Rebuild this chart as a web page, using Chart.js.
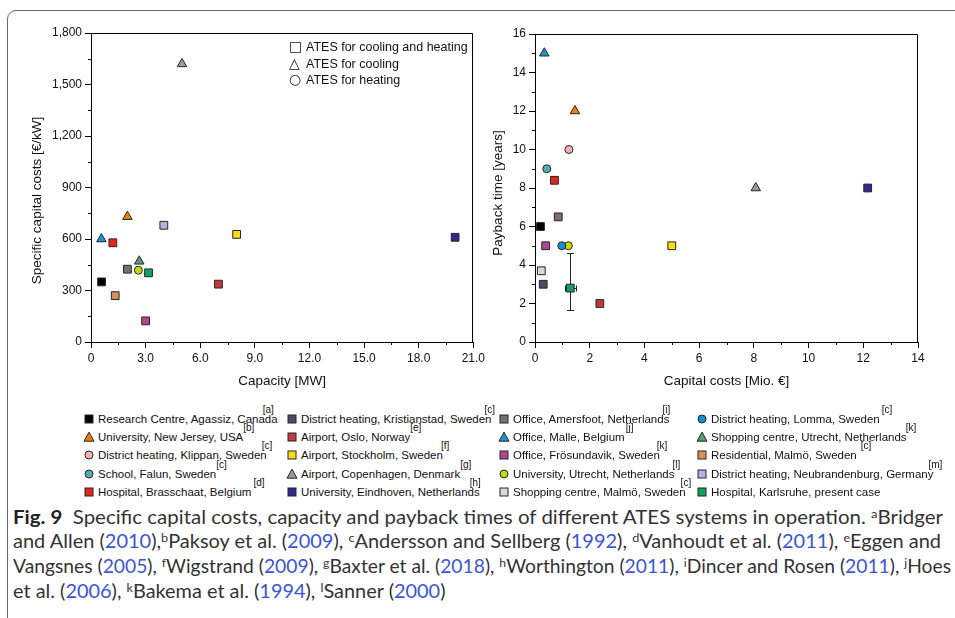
<!DOCTYPE html>
<html>
<head>
<meta charset="utf-8">
<script src="https://cdn.jsdelivr.net/npm/chart.js@4.4.1/dist/chart.umd.min.js"></script>
<style>
  body { margin: 0; width: 955px; height: 618px; overflow: hidden; position: relative; background: #fff;
         font-family: 'Liberation Sans', Arial, sans-serif; color: #111; }
  .frame { position: absolute; left: 7px; top: 10px; width: 980px; height: 640px; border: 1px solid #666;
           border-radius: 9px; box-sizing: border-box; }
  #wrapA { position: absolute; left: 0; top: 0; width: 488px; height: 400px; }
  #wrapB { position: absolute; left: 480px; top: 0; width: 475px; height: 400px; }
  .kind { position: absolute; left: 289px; font-size: 12.5px; line-height: 16px; white-space: nowrap; }
  .kind span.sym { display: inline-block; width: 17px; font-family: 'DejaVu Sans', sans-serif; font-size: 14px; }
  .item { position: absolute; font-size: 11.5px; line-height: 14px; white-space: nowrap; }
  .item svg { position: absolute; }
  .item sup { position: relative; font-size: 10px; vertical-align: baseline; }
  .cap { position: absolute; left: 13px; font-family: Lato, 'Open Sans', sans-serif; font-size: 19px;
         line-height: 24px; color: #333; white-space: nowrap; transform-origin: 0 50%; }
  .cap b { color: #222; }
  .cap sup { font-size: 12px; vertical-align: 6px; line-height: 0; }
  .cap .y { color: #3b55d9; }
</style>
</head>
<body>
<div class="frame"></div>
<div id="wrapA"><canvas id="chartA"></canvas></div>
<div id="wrapB"><canvas id="chartB"></canvas></div>
<div id="kinds"></div>
<div id="legend"></div>
<div class="cap" style="top:505px"><b>Fig. 9</b>&nbsp; Specific capital costs, capacity and payback times of different ATES systems in operation. <sup>a</sup>Bridger</div>
<div class="cap" style="top:529px">and Allen (<span class="y">2010</span>),<sup>b</sup>Paksoy et al. (<span class="y">2009</span>), <sup>c</sup>Andersson and Sellberg (<span class="y">1992</span>), <sup>d</sup>Vanhoudt et al. (<span class="y">2011</span>), <sup>e</sup>Eggen and</div>
<div class="cap" style="top:554px">Vangsnes (<span class="y">2005</span>), <sup>f</sup>Wigstrand (<span class="y">2009</span>), <sup>g</sup>Baxter et al. (<span class="y">2018</span>), <sup>h</sup>Worthington (<span class="y">2011</span>), <sup>i</sup>Dincer and Rosen (<span class="y">2011</span>), <sup>j</sup>Hoes</div>
<div class="cap" style="top:579px">et al. (<span class="y">2006</span>), <sup>k</sup>Bakema et al. (<span class="y">1994</span>), <sup>l</sup>Sanner (<span class="y">2000</span>)</div>
<script>
const siteNames = [
  'Research Centre, Agassiz, Canada', 'District heating, Kristianstad, Sweden', 'Office, Amersfoot, Netherlands', 'District heating, Lomma, Sweden',
  'University, New Jersey, USA', 'Airport, Oslo, Norway', 'Office, Malle, Belgium', 'Shopping centre, Utrecht, Netherlands',
  'District heating, Klippan, Sweden', 'Airport, Stockholm, Sweden', 'Office, Frösundavik, Sweden', 'Residential, Malmö, Sweden',
  'School, Falun, Sweden', 'Airport, Copenhagen, Denmark', 'University, Utrecht, Netherlands', 'District heating, Neubrandenburg, Germany',
  'Hospital, Brasschaat, Belgium', 'University, Eindhoven, Netherlands', 'Shopping centre, Malmö, Sweden', 'Hospital, Karlsruhe, present case',
];
const refTags = ['a', 'c', 'i', 'c', 'b', 'e', 'j', 'k', 'c', 'f', 'k', 'c', 'c', 'g', 'l', 'm', 'd', 'h', 'c', ''];

// left panel: capacity [MW] vs specific capital costs [€/kW]
const capacityMW = [0.58, null, 2.0, null, 2.0, 7.0, 0.57, 2.65, null, 8.0, 3.0, 1.33, null, 5.0, 2.6, 4.0, 1.2, 20.0, null, 3.16];
const specificCosts = [350, null, 424, null, 730, 337, 600, 470, null, 627, 123, 270, null, 1620, 418, 680, 578, 610, null, 403];

// right panel: capital costs [Mio. €] vs payback time [years]
const capitalCosts = [0.2, 0.3, 0.85, 0.98, 1.46, 2.37, 0.34, null, 1.24, 5.0, 0.39, null, 0.43, 8.07, 1.22, null, 0.71, 12.16, 0.23, 1.29];
const paybackYears = [6, 3, 6.5, 5, 12, 2, 15, null, 10, 5, 5, null, 9, 8, 5, null, 8.4, 8, 3.7, 2.8];

// Karlsruhe ranges (error bars)
const karlsruheCostRange = [1.1, 1.49];
const karlsruhePaybackRange = [1.64, 4.6];

const kindLabels = ['ATES for cooling and heating', 'ATES for cooling', 'ATES for heating'];
const kindSymbols = ['\u25A1', '\u25B3', '\u25CB'];

// marker styles
const markerShapes = [
  'rect', 'rect', 'rect', 'circle',
  'triangle', 'rect', 'triangle', 'triangle',
  'circle', 'rect', 'rect', 'rect',
  'circle', 'triangle', 'circle', 'rect',
  'rect', 'rect', 'rect', 'rect',
];
const markerColors = [
  '#000000', '#4d4b60', '#7b6f68', '#1a8fd0',
  '#ef7f0a', '#c4393f', '#1a95d0', '#5a9f6e',
  '#f6b4b6', '#f7dc16', '#b4448f', '#d8915e',
  '#5aa9b3', '#9a9a9a', '#c5d911', '#b6b0e0',
  '#e5251f', '#2f2a8f', '#d9d9d9', '#12a05e',
];
const supShift = [-15, -7, -7, 2, 0, 0, 1, -1, -5, -2, -3, 4, 0, 0, -2, -5, 2, -10, -5, 0];

const AXIS_FONT = "'Liberation Sans', Arial, sans-serif";
Chart.defaults.font.family = AXIS_FONT;
Chart.defaults.color = '#111';

function isMajor(value, major) {
  const q = value / major;
  return Math.abs(q - Math.round(q)) < 1e-6;
}

function makeAxis({ min, max, step, major, format, title, size }) {
  return {
    type: 'linear',
    min,
    max,
    afterFit: axis => {
      if (axis.isHorizontal()) axis.height = size;
      else axis.width = size;
    },
    ticks: {
      stepSize: step,
      autoSkip: false,
      maxRotation: 0,
      padding: 3,
      color: '#111',
      font: { size: 12 },
      callback: value => (isMajor(value, major) ? format(value) : ''),
    },
    grid: {
      drawOnChartArea: false,
      tickLength: 6,
      tickWidth: 1,
      tickColor: ctx => (ctx.tick && isMajor(ctx.tick.value, major) ? '#000' : 'rgba(0,0,0,0)'),
    },
    border: { display: true, color: '#000', width: 1 },
    title: { display: !!title, text: title || '', color: '#111', font: { size: 13.5 }, padding: { top: 4, bottom: 4 } },
  };
}

const frameAndMinorTicks = {
  id: 'frameAndMinorTicks',
  afterDraw(chart) {
    const { ctx, chartArea: area, scales } = chart;
    ctx.save();
    ctx.strokeStyle = '#000';
    ctx.lineWidth = 1;
    ctx.beginPath();
    const top = Math.round(area.top) + 0.5;
    const right = Math.round(area.right) - 0.5;
    ctx.moveTo(area.left, top);
    ctx.lineTo(right, top);
    ctx.lineTo(right, area.bottom);
    scales.x.ticks.forEach(t => {
      if (t.label !== '') return;
      const x = Math.round(scales.x.getPixelForValue(t.value)) + 0.5;
      ctx.moveTo(x, area.bottom);
      ctx.lineTo(x, area.bottom + 3);
    });
    scales.y.ticks.forEach(t => {
      if (t.label !== '') return;
      const y = Math.round(scales.y.getPixelForValue(t.value)) + 0.5;
      ctx.moveTo(area.left, y);
      ctx.lineTo(area.left - 3, y);
    });
    ctx.stroke();
    ctx.restore();
  },
};

// y title drawn slightly below the axis centre, as in the original figure
const shiftedYTitle = {
  id: 'shiftedYTitle',
  afterDraw(chart, args, opts) {
    const { ctx, chartArea: area } = chart;
    ctx.save();
    ctx.translate(opts.x, (area.top + area.bottom) / 2 + opts.shift);
    ctx.rotate(-Math.PI / 2);
    ctx.font = `13.5px ${AXIS_FONT}`;
    ctx.fillStyle = '#111';
    ctx.textAlign = 'center';
    ctx.textBaseline = 'middle';
    ctx.fillText(opts.text, 0, 0);
    ctx.restore();
  },
};

const karlsruheErrorBars = {
  id: 'karlsruheErrorBars',
  beforeDatasetsDraw(chart) {
    const { ctx, scales } = chart;
    const i = siteNames.length - 1;
    const cx = Math.round(scales.x.getPixelForValue(capitalCosts[i])) + 0.5;
    const cy = Math.round(scales.y.getPixelForValue(paybackYears[i])) + 0.5;
    const yLo = Math.round(scales.y.getPixelForValue(karlsruhePaybackRange[0])) + 0.5;
    const yHi = Math.round(scales.y.getPixelForValue(karlsruhePaybackRange[1])) + 0.5;
    const xLo = Math.round(scales.x.getPixelForValue(karlsruheCostRange[0])) + 0.5;
    const xHi = Math.round(scales.x.getPixelForValue(karlsruheCostRange[1])) + 0.5;
    ctx.save();
    ctx.strokeStyle = '#222';
    ctx.lineWidth = 1;
    ctx.beginPath();
    ctx.moveTo(cx, yLo); ctx.lineTo(cx, yHi);
    ctx.moveTo(cx - 3.5, yLo); ctx.lineTo(cx + 3.5, yLo);
    ctx.moveTo(cx - 3.5, yHi); ctx.lineTo(cx + 3.5, yHi);
    ctx.moveTo(xLo, cy); ctx.lineTo(xHi, cy);
    ctx.moveTo(xLo, cy - 3); ctx.lineTo(xLo, cy + 3);
    ctx.moveTo(xHi, cy - 3); ctx.lineTo(xHi, cy + 3);
    ctx.stroke();
    ctx.restore();
  },
};

function buildDatasets(xs, ys) {
  return siteNames.map((name, i) => ({
    label: name,
    data: xs[i] == null || ys[i] == null ? [] : [{ x: xs[i], y: ys[i] }],
    pointStyle: markerShapes[i],
    pointRadius: markerShapes[i] === 'circle' ? 4 : 5.5,
    backgroundColor: markerColors[i],
    borderColor: '#262626',
    borderWidth: 1,
  }));
}

function baseOptions(padding, xAxis, yAxis, yTitle) {
  return {
    responsive: true,
    maintainAspectRatio: false,
    animation: false,
    layout: { padding },
    plugins: { legend: { display: false }, tooltip: { enabled: false }, shiftedYTitle: yTitle },
    scales: { x: xAxis, y: yAxis },
  };
}

new Chart(document.getElementById('chartA').getContext('2d'), {
  type: 'scatter',
  data: { datasets: buildDatasets(capacityMW, specificCosts) },
  options: baseOptions(
    { left: 25, top: 33, right: 14, bottom: 7 },
    makeAxis({ min: 0, max: 21, step: 1.5, major: 3, format: v => (v === 0 ? '0' : v.toFixed(1)), title: 'Capacity [MW]', size: 51 }),
    makeAxis({ min: 0, max: 1800, step: 150, major: 300, format: v => v.toLocaleString('en-US'), size: 66 }),
    { text: 'Specific capital costs [€/kW]', x: 37, shift: 13 },
  ),
  plugins: [frameAndMinorTicks, shiftedYTitle],
});

new Chart(document.getElementById('chartB').getContext('2d'), {
  type: 'scatter',
  data: { datasets: buildDatasets(capitalCosts, paybackYears) },
  options: baseOptions(
    { left: 6, top: 34, right: 37, bottom: 7 },
    makeAxis({ min: 0, max: 14, step: 1, major: 2, format: v => String(v), title: 'Capital costs [Mio. €]', size: 51 }),
    makeAxis({ min: 0, max: 16, step: 1, major: 2, format: v => String(v), size: 49 }),
    { text: 'Payback time [years]', x: 18, shift: 5 },
  ),
  plugins: [frameAndMinorTicks, karlsruheErrorBars, shiftedYTitle],
});

// system type key inside the left panel
const kinds = document.getElementById('kinds');
kindLabels.forEach((label, i) => {
  const div = document.createElement('div');
  div.className = 'kind';
  div.style.top = (38 + i * 16.5) + 'px';
  div.innerHTML = `<span class="sym">${kindSymbols[i]}</span>${label}`;
  kinds.appendChild(div);
});

// site legend below the panels
function markerSvg(shape, color) {
  let mark;
  if (shape === 'rect') mark = `<rect x="2" y="2" width="8" height="8" fill="${color}" stroke="#262626" stroke-width="1"/>`;
  else if (shape === 'triangle') mark = `<polygon points="6,1.2 11,10.2 1,10.2" fill="${color}" stroke="#262626" stroke-width="1"/>`;
  else mark = `<circle cx="6" cy="6" r="4" fill="${color}" stroke="#262626" stroke-width="1"/>`;
  return `<svg width="12" height="12" viewBox="0 0 12 12" style="left:-15px;top:1px">${mark}</svg>`;
}

const columnX = [98, 301, 513, 711];
const rowY = [419, 437, 455, 474, 492];
const legend = document.getElementById('legend');
siteNames.forEach((name, i) => {
  const div = document.createElement('div');
  div.className = 'item';
  div.style.left = columnX[i % 4] + 'px';
  div.style.top = (rowY[Math.floor(i / 4)] - 7) + 'px';
  const sup = refTags[i] ? `<sup style="left:${supShift[i]}px;top:-10px">[${refTags[i]}]</sup>` : '';
  div.innerHTML = markerSvg(markerShapes[i], markerColors[i]) + name + sup;
  legend.appendChild(div);
});

// fit caption lines to the figure width
const capLines = document.querySelectorAll('.cap');
const capTargets = [930, 928, 938];
const fitScales = [];
capLines.forEach((el, i) => {
  if (i < capTargets.length) {
    const s = capTargets[i] / el.getBoundingClientRect().width;
    fitScales.push(s);
    el.style.transform = `scaleX(${s})`;
  }
});
const meanScale = fitScales.reduce((a, b) => a + b, 0) / fitScales.length;
capLines[3].style.transform = `scaleX(${meanScale})`;
</script>
</body>
</html>
